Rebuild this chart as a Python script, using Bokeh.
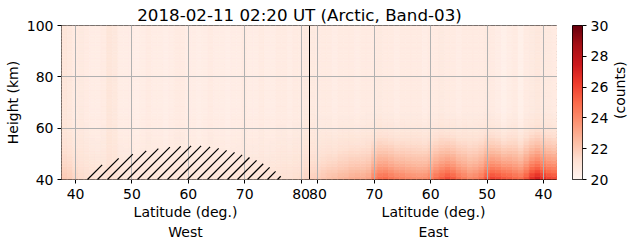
import math
import numpy as np
from bokeh.plotting import figure
from bokeh.layouts import row
from bokeh.models import (Range1d, LinearColorMapper, FixedTicker, LinearAxis,
                          ColumnDataSource, Span)
from bokeh.core.properties import value
from bokeh.transform import transform
from bokeh.palettes import Reds256
from bokeh.embed import file_html
from bokeh.resources import INLINE

# ---------------- data ----------------
TITLE = "2018-02-11 02:20 UT (Arctic, Band-03)"
Y_LABEL = "Height (km)"
X_LABEL = "Latitude (deg.)"
SIDES = ["West", "East"]
CBAR_LABEL = "(counts)"

LAT_TICKS = [40, 50, 60, 70, 80]
HEIGHT_TICKS = [40, 60, 80, 100]
CBAR_TICKS = [20, 22, 24, 26, 28, 30]
COUNT_LOW, COUNT_HIGH = 20, 30
LAT_MIN, LAT_MAX = 37.5, 81.5
HEIGHT_MIN, HEIGHT_MAX = 40, 100
HEIGHT_STEP = 1.25

# column centres (1 deg) of each panel, in plot order
WEST_LATS = list(range(38, 82))
EAST_LATS = list(range(81, 37, -1))
# counts aloft and at 40 km for each column
WEST_TOP = [20.9, 20.8, 20.6, 20.7, 20.6, 20.5, 20.5, 20.6, 20.9, 20.8,
            20.5, 20.5, 20.5, 20.4, 20.5, 20.6, 20.5, 20.5, 20.4, 20.5,
            20.6, 20.6, 20.5, 20.5, 20.4, 20.5, 20.6, 20.5, 20.5, 20.4,
            20.5, 20.5, 20.6, 20.5, 20.5, 20.6, 20.5, 20.5, 20.6, 20.6,
            20.5, 20.6, 20.6, 20.7]
WEST_BOTTOM = [22.0, 21.9, 21.6, 21.4, 21.3, 21.2, 21.1, 21.1, 21.3, 21.2,
               21.0, 20.9, 20.9, 20.9, 20.9, 20.9, 20.9, 20.9, 20.8, 20.9,
               20.9, 20.9, 20.9, 20.9, 20.8, 20.9, 20.9, 20.9, 20.9, 20.9,
               20.9, 21.0, 21.0, 21.0, 21.0, 21.0, 21.0, 21.1, 21.1, 21.2,
               21.2, 21.3, 21.4, 21.6]
EAST_TOP = [20.7, 20.6, 20.6, 20.6, 20.5, 20.6, 20.6, 20.6, 20.5, 20.6,
            20.6, 20.6, 20.7, 20.6, 20.6, 20.5, 20.6, 20.6, 20.6, 20.6,
            20.5, 20.6, 20.6, 20.7, 20.6, 20.6, 20.5, 20.6, 20.6, 20.6,
            20.6, 20.7, 20.6, 20.5, 20.3, 20.5, 20.6, 20.3, 20.6, 20.7,
            20.8, 20.7, 20.7, 20.6]
EAST_BOTTOM = [21.8, 21.9, 22.1, 22.3, 22.4, 22.6, 22.7, 22.9, 23.0, 23.0,
               23.2, 24.2, 24.8, 24.9, 24.6, 24.3, 24.2, 24.0, 23.9, 23.8,
               23.9, 24.2, 24.8, 25.3, 25.7, 25.4, 24.8, 24.4, 24.0, 24.2,
               24.6, 25.6, 26.0, 25.8, 25.5, 25.3, 25.0, 24.8, 25.5, 26.6,
               27.1, 26.5, 26.0, 25.8]
# share of the 40 km excess left in each 1.25 km layer going up
PROFILE = [1.0, 0.9, 0.8, 0.71, 0.63, 0.56, 0.49, 0.43, 0.37, 0.32, 0.27,
           0.22, 0.18, 0.14, 0.11, 0.08, 0.06, 0.04, 0.03, 0.02, 0.01]

# hatched region (west panel) outline
HATCH_LAT = [41.8, 43.0, 44.4, 46.0, 47.7, 50.5, 53.3, 56.5, 59.7, 62.7,
             65.5, 68.3, 70.5, 72.7, 75.1, 76.3, 76.8]
HATCH_HEIGHT = [40, 43.2, 45.4, 47.0, 48.3, 50.1, 51.6, 52.6, 53.1, 53.1,
                52.1, 50.5, 48.9, 46.9, 43.9, 41.6, 40]

# ---------------- layout constants ----------------
FONT = "DejaVu Sans"
H_TOTAL = 243
MAIN_W = 557
LEFT_B, TOP_B, BOTTOM_B = 61, 25, 64
CB_GAP, CB_W, CB_RIGHT = 15, 10, 29
LAB_W = 631 - MAIN_W - (CB_GAP + CB_W + CB_RIGHT)
LAB_X = 8
HATCH_SPACING_PX = 10.0
HATCH_PHASE_PX = 26.0   # frame-relative x where a hatch line meets the bottom

palette = list(reversed(Reds256))
mapper = LinearColorMapper(palette=palette, low=COUNT_LOW, high=COUNT_HIGH)

n_rows = int(round((HEIGHT_MAX - HEIGHT_MIN) / HEIGHT_STEP))
prof = np.array(PROFILE + [0.0] * (n_rows - len(PROFILE)))


def east_x(lat):
    """position of an east-side latitude on the shared x scale"""
    return 2 * LAT_MAX - lat


def cells(lats, top, bottom, to_x):
    top = np.array(top)
    bottom = np.array(bottom)
    vals = top[None, :] + (bottom - top)[None, :] * prof[:, None]
    d = dict(left=[], right=[], bottom=[], top=[], v=[])
    for r in range(n_rows):
        for c, lat in enumerate(lats):
            a, b = to_x(lat - 0.5), to_x(lat + 0.5)
            d["left"].append(min(a, b))
            d["right"].append(max(a, b))
            d["bottom"].append(HEIGHT_MIN + r * HEIGHT_STEP)
            d["top"].append(HEIGHT_MIN + (r + 1) * HEIGHT_STEP)
            d["v"].append(float(vals[r, c]))
    return ColumnDataSource(d)


def style_axis(ax):
    ax.axis_line_color = None
    ax.major_tick_line_color = "black"
    ax.major_tick_out = 4
    ax.major_tick_in = 0
    ax.minor_tick_line_color = None
    ax.major_label_text_font = FONT
    ax.major_label_text_font_size = "14px"
    ax.major_label_text_color = "black"
    ax.axis_label_text_font = FONT
    ax.axis_label_text_font_size = "14px"
    ax.axis_label_text_font_style = "normal"
    ax.axis_label_text_color = "black"


x_end = east_x(LAT_MIN)
p = figure(width=MAIN_W, height=H_TOTAL, output_backend="svg",
           toolbar_location=None, x_range=Range1d(LAT_MIN, x_end),
           y_range=Range1d(HEIGHT_MIN, HEIGHT_MAX),
           min_border_left=LEFT_B, min_border_right=0,
           min_border_top=TOP_B, min_border_bottom=BOTTOM_B)
p.background_fill_color = "white"
p.border_fill_color = "white"
p.outline_line_color = "black"
p.outline_line_width = 1

# heat map cells
for lats, top, bottom, to_x in ((WEST_LATS, WEST_TOP, WEST_BOTTOM, lambda v: v),
                                (EAST_LATS, EAST_TOP, EAST_BOTTOM, east_x)):
    src = cells(lats, top, bottom, to_x)
    p.quad(left="left", right="right", bottom="bottom", top="top", source=src,
           fill_color=transform("v", mapper), line_color=transform("v", mapper),
           line_width=0.6)

# hatch lines (45 deg on screen), clipped to the outline
frame_w = MAIN_W - LEFT_B
frame_h = H_TOTAL - TOP_B - BOTTOM_B
ppd = frame_w / (x_end - LAT_MIN)
ppk = frame_h / (HEIGHT_MAX - HEIGHT_MIN)
hl = np.array(HATCH_LAT, dtype=float)
hh = np.array(HATCH_HEIGHT, dtype=float)
t = np.linspace(0, 60, 1201)
x0s, y0s, x1s, y1s = [], [], [], []
lat_phase = LAT_MIN + HATCH_PHASE_PX / ppd
for n in range(-30, 40):
    lat_start = lat_phase + n * HATCH_SPACING_PX / ppd
    lat_t = lat_start + t / ppd
    h_t = HEIGHT_MIN + t / ppk
    inside = (lat_t >= hl[0]) & (lat_t <= hl[-1]) & (h_t <= np.interp(lat_t, hl, hh))
    idx = np.nonzero(inside)[0]
    if len(idx) < 2:
        continue
    i0, i1 = idx[0], idx[-1]
    x0s.append(lat_t[i0]); y0s.append(h_t[i0])
    x1s.append(lat_t[i1]); y1s.append(h_t[i1])
p.segment(x0=x0s, y0=y0s, x1=x1s, y1=y1s, line_color="black",
          line_width=1.2, level="overlay")

# separator between the two halves
p.add_layout(Span(location=LAT_MAX, dimension="height", line_color="black",
                  line_width=1))

# latitude ticks of both halves
xticks = LAT_TICKS + [east_x(v) for v in reversed(LAT_TICKS)]
overrides = {}
for v in LAT_TICKS:
    overrides[float(v)] = str(v)
    overrides[float(east_x(v))] = str(v)
p.xaxis.ticker = FixedTicker(ticks=xticks)
p.xaxis.major_label_overrides = overrides
p.xaxis.major_label_standoff = 5
style_axis(p.xaxis[0])

# axis titles under each half (label rows of two extra axes)
centers = [(LAT_MIN + LAT_MAX) / 2, (LAT_MAX + x_end) / 2]
for texts, standoff in (([X_LABEL, X_LABEL], 2), (SIDES, 1)):
    ax = LinearAxis(ticker=FixedTicker(ticks=centers),
                    major_label_overrides={float(c): s for c, s in zip(centers, texts)})
    style_axis(ax)
    ax.major_tick_line_color = None
    ax.major_tick_out = 0
    ax.major_label_standoff = standoff
    p.add_layout(ax, "below")

p.yaxis.ticker = FixedTicker(ticks=HEIGHT_TICKS)
p.yaxis.axis_label = Y_LABEL
p.yaxis.major_label_standoff = 4
p.yaxis.axis_label_standoff = 3
style_axis(p.yaxis[0])

p.xgrid.ticker = FixedTicker(ticks=xticks)
p.ygrid.ticker = FixedTicker(ticks=HEIGHT_TICKS)
for g in (p.xgrid[0], p.ygrid[0]):
    g.grid_line_color = "#b0b0b0"
    g.grid_line_width = 1
    g.level = "annotation"

# title
p.title.text = TITLE
p.title.align = "left"
p.title.offset = 75.7
p.title.text_font = FONT
p.title.text_font_size = "16.7px"
p.title.text_font_style = "normal"
p.title.text_color = "black"
p.title.standoff = 2

# colour bar
cbar = figure(width=CB_GAP + CB_W + CB_RIGHT, height=H_TOTAL, output_backend="svg",
              toolbar_location=None, x_range=Range1d(0, 1),
              y_range=Range1d(COUNT_LOW, COUNT_HIGH),
              min_border_left=CB_GAP, min_border_right=CB_RIGHT,
              min_border_top=TOP_B, min_border_bottom=BOTTOM_B,
              x_axis_location=None, y_axis_location=None)
cbar.outline_line_color = "black"
cbar.border_fill_color = "white"
cbar.grid.visible = False
ramp = np.linspace(COUNT_LOW, COUNT_HIGH, 256).reshape(-1, 1)
cbar.image(image=[ramp], x=0, y=COUNT_LOW, dw=1, dh=COUNT_HIGH - COUNT_LOW,
           color_mapper=mapper)
cax = LinearAxis(ticker=FixedTicker(ticks=CBAR_TICKS))
style_axis(cax)
cax.major_label_standoff = 4
cbar.add_layout(cax, "right")

# colour bar title, rotated to read upwards
lab = figure(width=LAB_W, height=H_TOTAL, output_backend="svg",
             toolbar_location=None, x_range=Range1d(0, LAB_W),
             y_range=Range1d(0, H_TOTAL), min_border=0,
             x_axis_location=None, y_axis_location=None)
lab.outline_line_color = None
lab.grid.visible = False
lab.border_fill_color = "white"
lab.text(x=[LAB_X], y=[H_TOTAL - TOP_B - frame_h / 2], text=[CBAR_LABEL],
         angle=math.pi / 2, text_font=value(FONT), text_font_size=value("14px"),
         text_align="center", text_baseline="middle", text_color="black")

layout = row(p, cbar, lab, spacing=0)
open("out.html", "w").write(file_html(layout, INLINE))
